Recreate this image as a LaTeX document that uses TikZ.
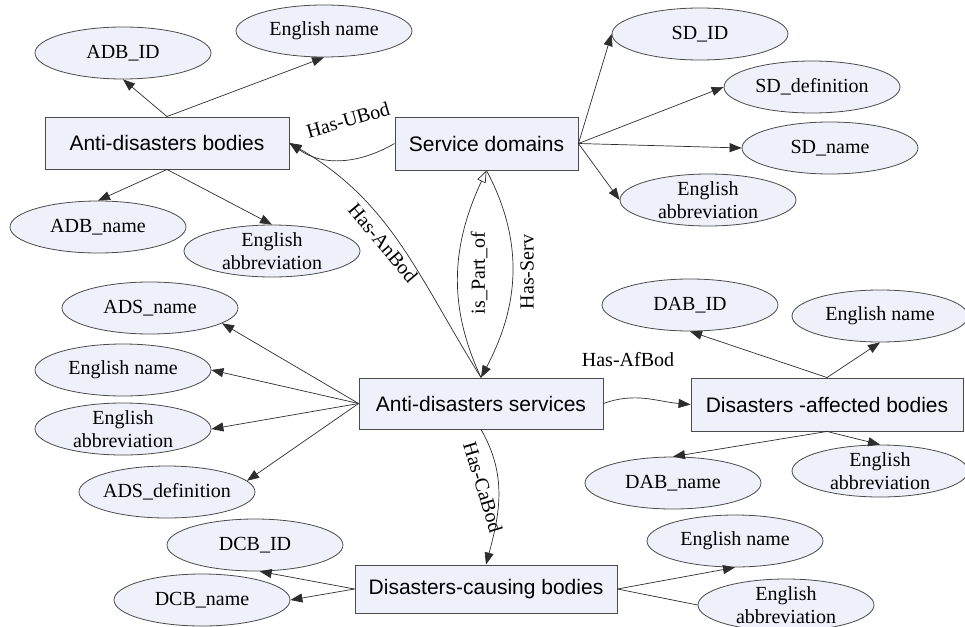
\documentclass[tikz,border=0pt]{standalone}
\usepackage{fontspec}
\setmainfont{Liberation Serif}
\newfontfamily\boxfont{Liberation Sans}
\usetikzlibrary{shapes.geometric,arrows.meta}
\definecolor{nodefill}{RGB}{238,241,250}
\definecolor{edgecol}{RGB}{45,45,45}
\definecolor{bordercol}{RGB}{75,75,75}
\begin{document}
\begin{tikzpicture}[x=1pt,y=1pt,
  ent/.style={draw=bordercol, fill=nodefill, line width=0.9pt, inner sep=0pt,
    font=\boxfont\fontsize{21}{25}\selectfont},
  att/.style={ellipse, draw=bordercol, fill=nodefill, line width=0.8pt,
    minimum width=176pt, minimum height=52pt, inner sep=0pt,
    label={[atext]center:#1}},
  atext/.style={font=\fontsize{20}{23}\selectfont, align=center, inner sep=0pt},
  rel/.style={draw=edgecol, line width=0.7pt, -{Triangle[length=12pt,width=9pt]}},
  plain/.style={draw=edgecol, line width=0.7pt},
  lbl/.style={font=\fontsize{20}{24}\selectfont, inner sep=1pt}
]
\useasboundingbox (0,0) rectangle (965,-626);

% entity boxes
\node[ent, minimum width=244pt, minimum height=52pt] (adb) at (167,-143) {Anti-disasters bodies};
\node[ent, minimum width=183pt, minimum height=53pt] (sd) at (486.5,-143.5) {Service domains};
\node[ent, minimum width=244pt, minimum height=51pt] (ads) at (481,-403.5) {Anti-disasters services};
\node[ent, minimum width=272pt, minimum height=53pt] (dab) at (827,-404.5) {Disasters -affected bodies};
\node[ent, minimum width=262pt, minimum height=48pt] (dcs) at (486,-589) {Disasters-causing bodies};

% attribute ellipses
\node[att={ADB\_ID}] (e1) at (123,-53) {};
\node[att={English name}] (e2) at (324,-31) {};
\node[att={ADB\_name}] (e3) at (98,-227) {};
\node[att={English\\abbreviation}] (e4) at (272,-251) {};
\node[att={SD\_ID}] (e5) at (700,-34) {};
\node[att={SD\_definition}] (e6) at (812,-87) {};
\node[att={SD\_name}] (e7) at (830,-148) {};
\node[att={English\\abbreviation}] (e8) at (708,-200) {};
\node[att={ADS\_name}] (e9) at (150,-308) {};
\node[att={English name}] (e10) at (123,-370) {};
\node[att={English\\abbreviation}] (e11) at (123,-429) {};
\node[att={ADS\_definition}] (e12) at (167,-492) {};
\node[att={DAB\_ID}] (e13) at (690,-305) {};
\node[att={English name}] (e14) at (880,-316) {};
\node[att={DAB\_name}] (e15) at (673,-483) {};
\node[att={English\\abbreviation}] (e16) at (880,-471) {};
\node[att={DCB\_ID}] (e17) at (255,-545) {};
\node[att={DCB\_name}] (e18) at (202,-600) {};
\node[att={English name}] (e19) at (735,-541) {};
\node[att={English\\abbreviation}] (e20) at (786,-605) {};

% attribute links
\draw[rel] (adb.north) -- (e1.south);
\draw[rel] (adb.north) -- (e2.south);
\draw[rel] (adb.south) -- (e3.north);
\draw[rel] (adb.south) -- (e4.north);
\draw[rel] (sd.east) -- (e5.west);
\draw[rel] (sd.east) -- (e6.west);
\draw[rel] (sd.east) -- (e7.west);
\draw[rel] (sd.east) -- (e8.west);
\draw[rel] (ads.west) -- (e9.-12);
\draw[rel] (ads.west) -- (e10.east);
\draw[rel] (ads.west) -- (e11.east);
\draw[rel] (ads.west) -- (e12.8);
\draw[rel] (dab.north) -- (e13.south);
\draw[rel] (dab.north) -- (e14.south);
\draw[rel] (dab.south) -- (e15.north);
\draw[rel] (dab.south) -- (e16.north);
\draw[rel] (dcs.west) -- (e17.-80);
\draw[rel] (dcs.west) -- (e18.east);
\draw[rel] (dcs.east) -- (e19.south);
\draw[plain] (dcs.east) -- (e20.west);

% relations
\draw[rel] (sd.west) to[out=210,in=-35] (adb.east);
\node[lbl, rotate=16] (lUBod) at (348,-120) {Has-UBod};
\draw[rel] (ads.north) to[out=122,in=-30] (adb.east);
\node[lbl, rotate=-50] (lAnBod) at (383,-243) {Has-AnBod};
\draw[draw=edgecol, line width=0.7pt, -{Triangle[open,length=12pt,width=9pt]}]
  (ads.north) to[out=115,in=-115] (sd.south);
\node[lbl, rotate=90] (lPart) at (479,-273) {is\_Part\_of};
\draw[rel] (sd.south) to[out=-62,in=62] (ads.north);
\node[lbl, rotate=90] (lServ) at (527,-272) {Has-Serv};
\draw[rel] (ads.east) to[out=20,in=175] (dab.west);
\node[lbl] (lAfBod) at (628,-360) {Has-AfBod};
\draw[rel] (ads.south) to[out=-60,in=75] (dcs.north);
\node[lbl, rotate=-73] (lCaBod) at (483,-487) {Has-CaBod};
\end{tikzpicture}
\end{document}
